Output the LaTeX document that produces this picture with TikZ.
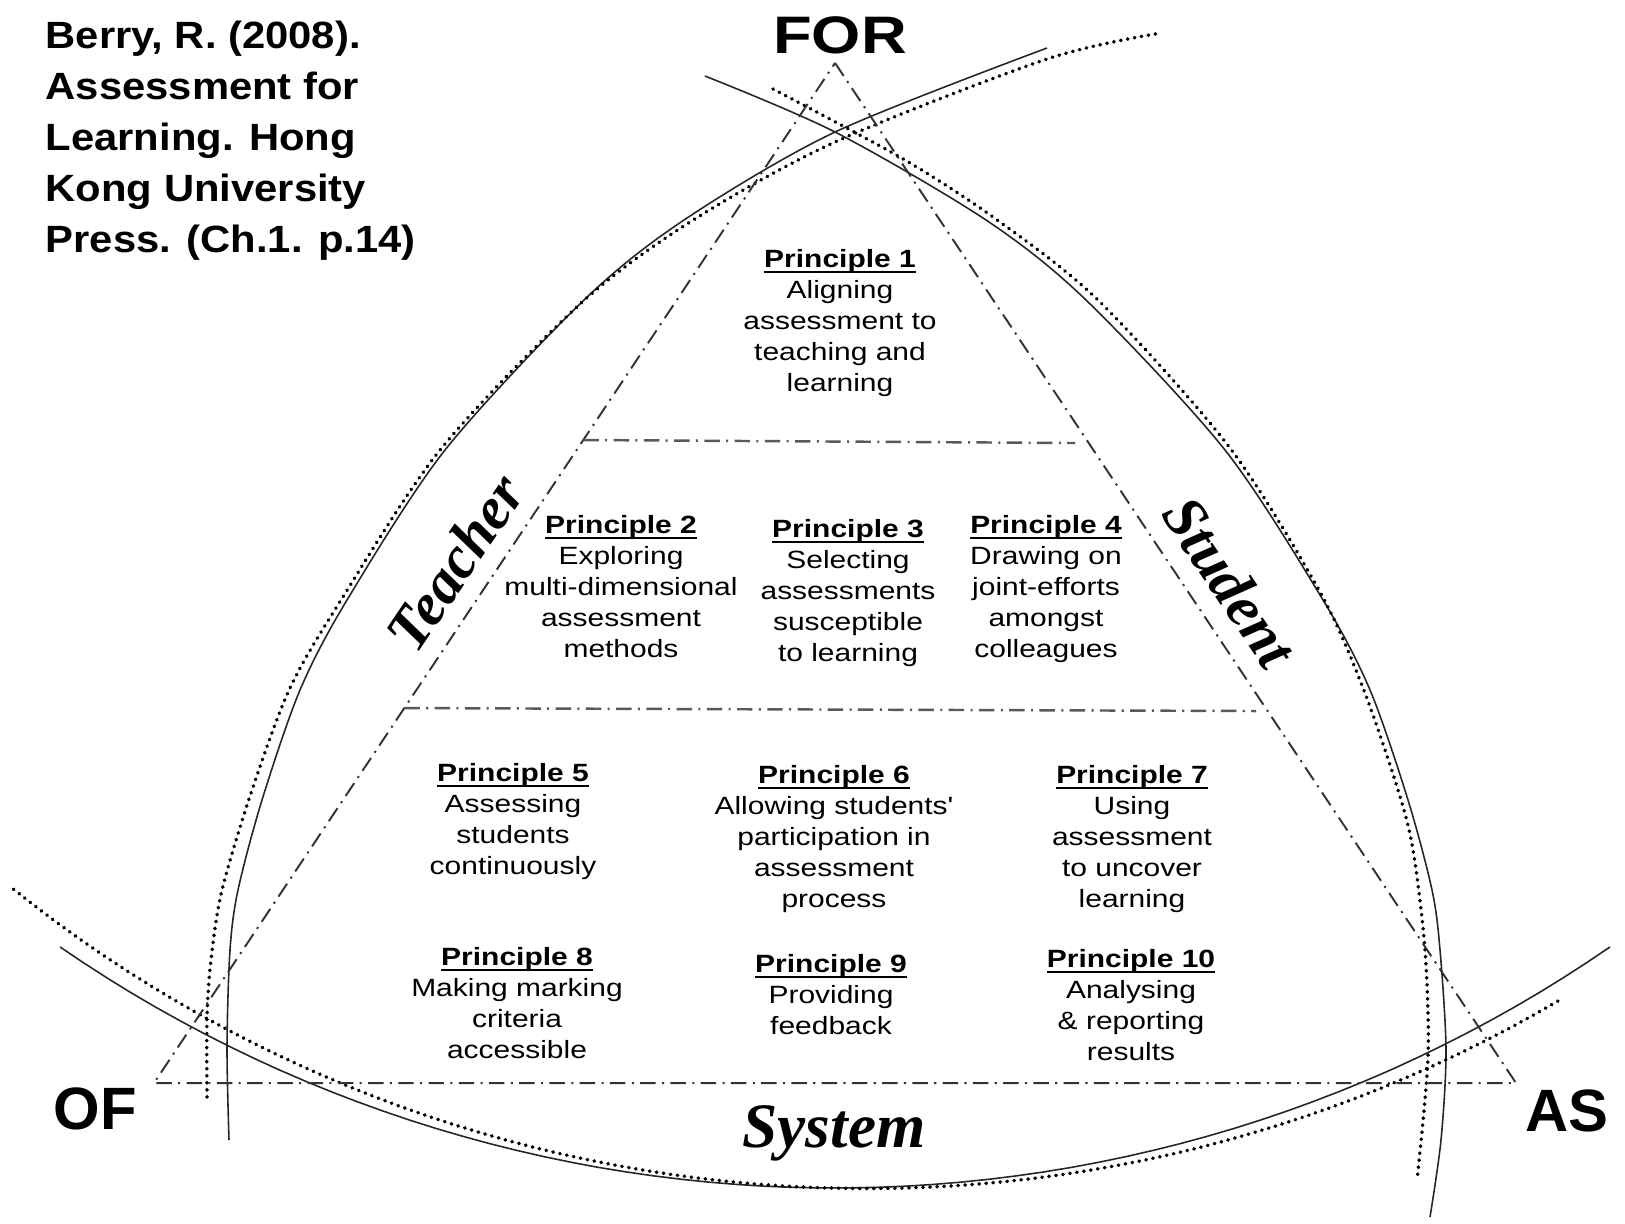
\documentclass[tikz,border=0pt]{standalone}
\usepackage{fontspec}
\setmainfont{Liberation Sans}
\newfontfamily\pfont[FakeStretch=1.2]{Liberation Sans}
\newfontfamily\reffont[FakeStretch=1.1]{Liberation Sans}
\newfontfamily\sidefont{Liberation Serif}
\usetikzlibrary{calc}

\newcommand{\headline}[1]{\setbox0\hbox{#1}\rlap{\rule[-1.45pt]{\wd0}{0.45pt}}\box0}
\newcommand{\principle}[2]{\headline{\bfseries Principle #1}\\#2}

\begin{document}
\begin{tikzpicture}[x=0.01cm, y=-0.01cm,
    ref/.style={font=\reffont\bfseries\fontsize{10.8}{14.5}\selectfont, align=left, inner sep=0pt, anchor=north west},
    forlabel/.style={font=\pfont\bfseries\fontsize{15}{15}\selectfont, inner sep=0pt, anchor=base},
    cornerlabel/.style={font=\bfseries\fontsize{17}{17}\selectfont, inner sep=0pt, anchor=base},
    side/.style={font=\sidefont\bfseries\itshape\fontsize{17}{17}\selectfont, inner sep=0pt},
    principle/.style={font=\pfont\fontsize{7.1}{8.8}\selectfont, align=center, inner sep=0pt, anchor=north},
    rim/.style={line width=0.45pt, black!85},
    rimdots/.style={line width=1.05pt, line cap=round, dash pattern=on 0.1pt off 1.9pt},
    sideline/.style={line width=0.55pt, black!80, dash pattern=on 4.4pt off 1.8pt on 0.6pt off 1.8pt},
    tier/.style={line width=0.7pt, black!65, dash pattern=on 4.4pt off 1.8pt on 0.6pt off 1.8pt}]
    \useasboundingbox (0,0) rectangle (1625,1223);

    \draw[rim] plot[smooth] coordinates {(229,1140) (227,1047) (230,950) (238,890) (262,800) (300,690) (347,600) (445,450) (584,300) (684,220) (835,132) (1047,48)};
    \draw[rimdots] plot[smooth] coordinates {(207,1097) (207,1017) (211,960) (222,890) (252,790) (290,688) (341,600) (440,450) (580,304) (690,222) (835,142) (1047,59) (1161,33)};
    \draw[rim] plot[smooth] coordinates {(705,76) (835,132) (986,220) (1086,300) (1225,450) (1323,600) (1370,690) (1408,800) (1432,890) (1440,950) (1446,1050) (1441,1140) (1430,1217)};
    \draw[rimdots] plot[smooth] coordinates {(773,89) (905,160) (1000,222) (1100,302) (1230,448) (1320,592) (1363,688) (1398,790) (1413,850) (1425,950) (1428,1057) (1417,1180)};
    \draw[rim] plot[domain=55.45:124.55, samples=60] ({835+1366.6*cos(\x)}, {-178.6+1366.6*sin(\x)});
    \draw[rimdots] plot[domain=59.63:128.66, samples=60] ({867+1366.6*cos(\x)}, {-178+1366.6*sin(\x)});

    \coordinate (apex) at (835,63);
    \coordinate (baseL) at (154,1083);
    \coordinate (baseR) at (1516,1083);
    \coordinate (tier1L) at ($(apex)!0.3696!(baseL)$);
    \coordinate (tier1R) at (1075,443);
    \coordinate (tier2L) at ($(apex)!0.6324!(baseL)$);
    \coordinate (tier2R) at (1256,711);
    \draw[sideline] (apex) -- (baseR) -- (baseL) -- cycle;
    \draw[tier] (tier1L) -- (tier1R);
    \draw[tier] (tier2L) -- (tier2R);

    \node (ref) [ref] at (45,20) {Berry, R. (2008).\\Assessment for\\Learning. Hong\\Kong University\\Press. (Ch.1. p.14)};
    \node (for) [forlabel] at (840,53) {FOR};
    \node (of) [cornerlabel] at (95,1129) {OF};
    \node (as) [cornerlabel] at (1567,1131) {AS};
    \node (teacher) [side, rotate=56] at (455,562) {Teacher};
    \node (student) [side, rotate=-56] at (1230,582) {Student};
    \node (system) [side, anchor=base, font=\sidefont\bfseries\itshape\fontsize{18}{18}\selectfont] at (834,1147) {System};

    \node (p1) [principle] at (840,249) {\principle{1}{Aligning\\assessment to\\teaching and\\learning}};
    \node (p2) [principle] at (621,515) {\principle{2}{Exploring\\multi-dimensional\\assessment\\methods}};
    \node (p3) [principle] at (848,519) {\principle{3}{Selecting\\assessments\\susceptible\\to learning}};
    \node (p4) [principle] at (1046,515) {\principle{4}{Drawing on\\joint-efforts\\amongst\\colleagues}};
    \node (p5) [principle] at (513,763) {\principle{5}{Assessing\\students\\continuously}};
    \node (p6) [principle] at (834,765) {\principle{6}{Allowing students'\\participation in\\assessment\\process}};
    \node (p7) [principle] at (1132,765) {\principle{7}{Using\\assessment\\to uncover\\learning}};
    \node (p8) [principle] at (517,947) {\principle{8}{Making marking\\criteria\\accessible}};
    \node (p9) [principle] at (831,954) {\principle{9}{Providing\\feedback}};
    \node (p10) [principle] at (1131,949) {\principle{10}{Analysing\\\& reporting\\results}};
\end{tikzpicture}
\end{document}
